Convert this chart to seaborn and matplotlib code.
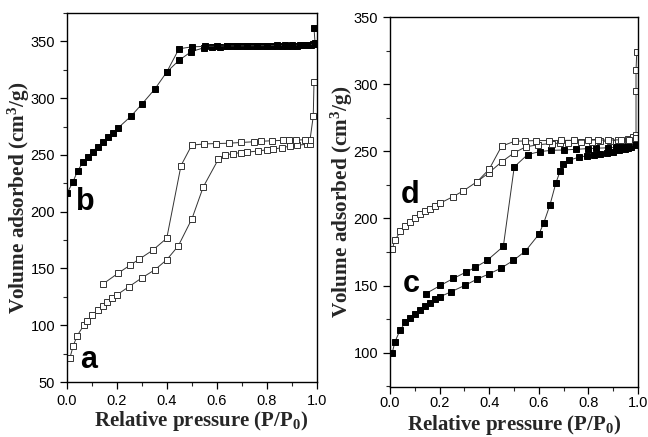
import numpy as np
import pandas as pd
import matplotlib
matplotlib.use("Agg")
import matplotlib.pyplot as plt
from matplotlib.ticker import MultipleLocator
import seaborn as sns

# ---------------- data ----------------
b_ads_x = [0.001, 0.023, 0.043, 0.064, 0.083, 0.103, 0.123, 0.143, 0.163, 0.183, 0.203,
           0.255, 0.301, 0.352, 0.399, 0.448, 0.497, 0.548, 0.58, 0.61, 0.64, 0.66, 0.68,
           0.70, 0.72, 0.74, 0.76, 0.78, 0.80, 0.82, 0.84, 0.86, 0.88, 0.90, 0.92, 0.94,
           0.96, 0.975, 0.985, 0.992, 0.988]
b_ads_y = [216.5, 225.9, 236.2, 243.6, 248.3, 253.0, 257.4, 261.5, 265.4, 269.1, 273.5,
           283.9, 295.1, 308.2, 323.0, 333.3, 341.0, 344.4, 345.2, 345.4, 345.5, 345.5, 345.6,
           345.6, 345.7, 345.7, 345.8, 345.8, 345.9, 345.9, 346.0, 346.0, 346.1, 346.2, 346.3, 346.4,
           346.6, 347.0, 347.5, 349.0, 362.0]
b_des_x = [0.99, 0.96, 0.93, 0.90, 0.87, 0.84, 0.80, 0.76, 0.72, 0.68, 0.64, 0.60, 0.55,
           0.50, 0.448, 0.399]
b_des_y = [347.5, 347.0, 346.8, 346.6, 346.5, 346.4, 346.3, 346.2, 346.1, 346.0, 346.0,
           345.8, 345.6, 345.2, 343.5, 323.0]

a_ads_x = [0.012, 0.025, 0.041, 0.069, 0.081, 0.101, 0.123, 0.143, 0.161, 0.181, 0.201,
           0.249, 0.300, 0.352, 0.399, 0.445, 0.500, 0.545, 0.605, 0.632, 0.665, 0.695,
           0.719, 0.765, 0.800, 0.825, 0.858, 0.892, 0.919, 0.959, 0.970, 0.985, 0.988]
a_ads_y = [71.5, 82.0, 90.9, 100.6, 103.8, 109.1, 113.5, 117.1, 120.3, 123.8, 127.0,
           134.1, 141.8, 148.9, 157.7, 169.8, 193.9, 221.8, 246.0, 250.0, 251.2, 252.0,
           252.4, 253.5, 254.5, 255.0, 256.4, 257.7, 258.5, 259.4, 260.0, 284.0, 314.0]
a_des_x = [0.970, 0.952, 0.915, 0.889, 0.862, 0.820, 0.775, 0.749, 0.697, 0.648, 0.595,
           0.549, 0.499, 0.456, 0.399, 0.343, 0.289, 0.253, 0.205, 0.145]
a_des_y = [263.5, 263.4, 263.0, 262.9, 262.8, 262.5, 262.0, 261.6, 261.0, 260.3, 260.0,
           259.7, 258.6, 240.6, 176.6, 166.1, 158.2, 153.0, 145.9, 136.5]

d_ads_x = [0.009, 0.020, 0.042, 0.062, 0.082, 0.101, 0.121, 0.141, 0.161, 0.181, 0.202,
           0.253, 0.296, 0.352, 0.400, 0.450, 0.500, 0.547, 0.598, 0.652, 0.685, 0.719,
           0.772, 0.813, 0.847, 0.887, 0.921, 0.961, 0.981, 0.992, 0.992, 0.992, 0.995]
d_ads_y = [177.2, 183.9, 190.3, 194.5, 197.5, 200.2, 203.0, 205.2, 207.2, 209.2, 211.4,
           216.1, 220.6, 227.5, 234.2, 242.1, 248.8, 253.3, 254.9, 255.8, 256.0, 256.3,
           256.7, 257.1, 257.4, 257.7, 258.2, 259.2, 260.5, 262.0, 295.0, 310.3, 324.0]
d_des_x = [0.990, 0.965, 0.930, 0.880, 0.840, 0.800, 0.740, 0.690, 0.640, 0.590, 0.544,
           0.503, 0.450, 0.400, 0.352]
d_des_y = [260.0, 258.7, 258.5, 258.4, 258.4, 258.3, 258.2, 258.1, 258.0, 258.0, 257.7,
           257.5, 253.8, 236.7, 227.5]

c_ads_x = [0.009, 0.020, 0.040, 0.062, 0.081, 0.101, 0.120, 0.140, 0.160, 0.180, 0.202,
           0.246, 0.301, 0.351, 0.398, 0.446, 0.497, 0.546, 0.600, 0.620, 0.645, 0.669,
           0.687, 0.699, 0.723, 0.763, 0.795, 0.821, 0.848, 0.875, 0.900, 0.925, 0.947,
           0.960, 0.973, 0.990]
c_ads_y = [100.0, 108.2, 116.6, 122.6, 125.6, 129.0, 132.0, 134.7, 137.2, 139.7, 141.7,
           145.4, 150.1, 154.8, 158.6, 162.8, 168.7, 175.7, 188.1, 196.7, 210.1, 226.5,
           235.7, 240.4, 243.4, 245.7, 246.7, 247.3, 248.0, 249.0, 249.7, 251.0, 252.0,
           252.7, 253.5, 254.6]
c_des_x = [0.990, 0.960, 0.935, 0.910, 0.880, 0.830, 0.800, 0.750, 0.700, 0.650, 0.605,
           0.555, 0.501, 0.457, 0.392, 0.343, 0.306, 0.255, 0.203, 0.144]
c_des_y = [255.5, 253.6, 253.2, 252.9, 252.6, 252.3, 252.0, 251.5, 251.0, 250.7, 249.8,
           247.6, 238.4, 179.2, 168.8, 163.5, 160.0, 155.3, 150.1, 144.0]

x_ticks = [0.0, 0.2, 0.4, 0.6, 0.8, 1.0]
left_yticks = [50, 100, 150, 200, 250, 300, 350]
right_yticks = [100, 150, 200, 250, 300, 350]

# ---------------- style ----------------
sns.set_style("ticks")
plt.rcParams["font.family"] = ["Liberation Sans", "DejaVu Sans"]
plt.rcParams["mathtext.fontset"] = "custom"
plt.rcParams["mathtext.rm"] = "Liberation Serif:bold"
plt.rcParams["mathtext.it"] = "Liberation Serif:bold"
plt.rcParams["mathtext.bf"] = "Liberation Serif:bold"

fig = plt.figure(figsize=(6.48, 4.37), dpi=100)
axL = fig.add_axes([67/648, 1-382/437, 250/648, 369/437])
axR = fig.add_axes([390/648, 1-387/437, 248/648, 370/437])


def branch(ax, xs, ys, filled):
    df = pd.DataFrame({"x": xs, "y": ys})
    sns.lineplot(data=df, x="x", y="y", sort=False, estimator=None, ax=ax,
                 color="#333333", lw=0.7, marker="s", markersize=4.2,
                 markerfacecolor="black" if filled else "white",
                 markeredgecolor="black" if filled else "#333333",
                 markeredgewidth=0.7)


branch(axL, b_ads_x, b_ads_y, True)
branch(axL, b_des_x, b_des_y, True)
branch(axL, a_ads_x, a_ads_y, False)
branch(axL, a_des_x, a_des_y, False)

branch(axR, c_ads_x, c_ads_y, True)
branch(axR, c_des_x, c_des_y, True)
branch(axR, d_ads_x, d_ads_y, False)
branch(axR, d_des_x, d_des_y, False)

axL.set_xlim(0, 1.0)
axL.set_ylim(50, 375)
axR.set_xlim(0, 1.0)
axR.set_ylim(74.5, 350)

xlab_font = dict(family="Liberation Serif", weight="bold", size=15)
ylab_font = dict(family="Liberation Serif", weight="bold", size=15.3)
for ax, yt in ((axL, left_yticks), (axR, right_yticks)):
    ax.set_xticks(x_ticks)
    ax.set_xticklabels([f"{t:.1f}" for t in x_ticks])
    ax.set_yticks(yt)
    ax.xaxis.set_minor_locator(MultipleLocator(0.1))
    ax.yaxis.set_minor_locator(MultipleLocator(25))
    ax.tick_params(which="major", direction="out", length=5, width=0.9,
                   labelsize=10.5, colors="black", top=False, right=False)
    ax.tick_params(which="minor", direction="out", length=3, width=0.8,
                   top=False, right=False)
    for s in ax.spines.values():
        s.set_visible(True)
        s.set_linewidth(1.0)
        s.set_color("black")
    ax.set_xlabel(r"Relative pressure (P/P$_{\mathrm{0}}$)", fontdict=xlab_font)
    ax.set_ylabel(r"Volume adsorbed (cm$^{\mathrm{3}}$/g)", fontdict=ylab_font)

axR.tick_params(axis="x", which="major", pad=1.8)

axL.yaxis.set_label_coords(-0.138, 0.5)
axR.yaxis.set_label_coords(-0.141, 0.5)
axL.xaxis.set_label_coords(0.536, -0.073)
axR.xaxis.set_label_coords(0.5, -0.071)

txt = dict(fontsize=22, fontweight="bold", family="Liberation Sans",
           ha="left", va="baseline", color="black")
axL.text(0.036, 201.8, "b", **txt)
axL.text(0.052, 62.4, "a", **txt)
axR.text(0.043, 211.2, "d", **txt)
axR.text(0.051, 144.9, "c", **txt)

fig.savefig("out.png", dpi=100)
